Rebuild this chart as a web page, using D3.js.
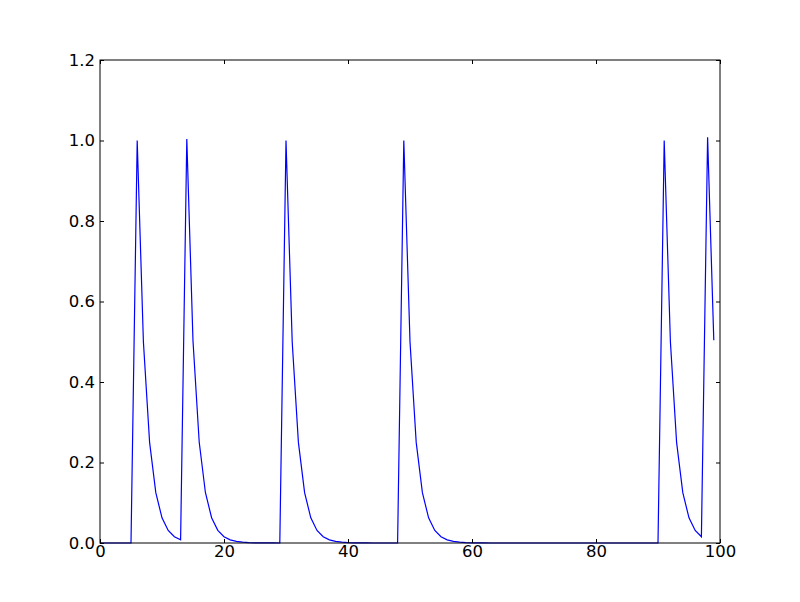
<!DOCTYPE html>
<html>
<head>
<meta charset="utf-8">
<script src="https://cdn.jsdelivr.net/npm/d3@7"></script>
<style>
  body { margin: 0; background: #fff; }
  svg { display: block; }
  .tick text { font-family: "DejaVu Sans", sans-serif; font-size: 16.5px; fill: #000; }
  .domain { display: none; }
</style>
</head>
<body>
<div id="chart"></div>
<script>
// values, one per step 0..99
var yValues = [
  0, 0, 0, 0, 0, 0, 1, 0.5, 0.25, 0.125,
  0.0625, 0.0313, 0.0156, 0.0078, 1.0039, 0.502, 0.251, 0.1255, 0.0627, 0.0314,
  0.0157, 0.0078, 0.0039, 0.002, 0.001, 0.0005, 0.0002, 0.0001, 0.0001, 0,
  1, 0.5, 0.25, 0.125, 0.0625, 0.0313, 0.0156, 0.0078, 0.0039, 0.002,
  0.001, 0.0005, 0.0002, 0.0001, 0, 0, 0, 0, 0, 1,
  0.5, 0.25, 0.125, 0.0625, 0.0313, 0.0156, 0.0078, 0.0039, 0.002, 0.001,
  0.0005, 0.0002, 0.0001, 0, 0, 0, 0, 0, 0, 0,
  0, 0, 0, 0, 0, 0, 0, 0, 0, 0,
  0, 0, 0, 0, 0, 0, 0, 0, 0, 0,
  0, 1, 0.5, 0.25, 0.125, 0.0625, 0.0313, 0.0156, 1.0078, 0.5039
];
var xTicks = [0, 20, 40, 60, 80, 100];
var yTicks = [0.0, 0.2, 0.4, 0.6, 0.8, 1.0, 1.2];

var margin = {top: 60, right: 80, bottom: 59, left: 100},
    width = 800 - margin.left - margin.right,
    height = 602 - margin.top - margin.bottom;

var svg = d3.select("#chart")
  .append("svg")
    .attr("width", 800)
    .attr("height", 602)
  .append("g")
    .attr("transform", "translate(" + margin.left + "," + margin.top + ")");

var x = d3.scaleLinear().domain([0, 100]).range([0, width]);
var y = d3.scaleLinear().domain([0, 1.2]).range([height, 0]);

// line
var line = d3.line()
  .x(function(d, i) { return x(i); })
  .y(function(d) { return y(d); });

svg.append("path")
  .datum(yValues)
  .attr("fill", "none")
  .attr("stroke", "#0000ff")
  .attr("stroke-width", 1.2)
  .attr("d", line);

// axes, ticks point inward like matplotlib classic
svg.append("g")
  .attr("transform", "translate(0," + height + ")")
  .call(d3.axisBottom(x).tickValues(xTicks).tickFormat(d3.format("d")).tickSizeInner(-4).tickPadding(2));
svg.append("g")
  .call(d3.axisTop(x).tickValues(xTicks).tickSizeInner(-4).tickFormat(""));
svg.append("g")
  .call(d3.axisLeft(y).tickValues(yTicks).tickFormat(d3.format(".1f")).tickSizeInner(-4).tickPadding(5));
svg.append("g")
  .attr("transform", "translate(" + width + ",0)")
  .call(d3.axisRight(y).tickValues(yTicks).tickSizeInner(-4).tickFormat(""));

svg.selectAll(".tick line").attr("stroke", "#000");

// frame
svg.append("rect")
  .attr("width", width)
  .attr("height", height)
  .attr("fill", "none")
  .attr("stroke", "#000")
  .attr("stroke-width", 1);
</script>
</body>
</html>
